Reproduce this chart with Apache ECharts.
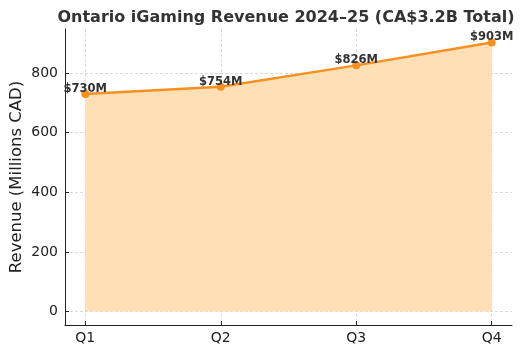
<!DOCTYPE html>
<html style="height: 100%">
<head>
  <meta charset="utf-8">
</head>
<body style="height: 100%; margin: 0">
  <div id="container" style="width: 527px; height: 354px"></div>
  <script type="text/javascript" src="https://cdn.jsdelivr.net/npm/echarts@6/dist/echarts.min.js"></script>
  <script type="text/javascript">
    var quarters = ['Q1', 'Q2', 'Q3', 'Q4'];
    var revenue = [730, 754, 826, 903];
    var yTicks = [0, 200, 400, 600, 800];

    var dom = document.getElementById("container");
    var myChart = echarts.init(dom);
    var font = 'DejaVu Sans';
    var xIdx = quarters.map(function (q, i) { return i; });

    var option = {
        animation: false,
        textStyle: { fontFamily: font },
        title: {
            text: 'Ontario iGaming Revenue 2024–25 (CA$3.2B Total)',
            left: 281,
            textAlign: 'center',
            top: 5,
            textStyle: { fontSize: 16, fontWeight: 'bold', color: '#333', fontFamily: font }
        },
        grid: { left: 65, right: 15, top: 29, bottom: 29, containLabel: false, outerBoundsMode: 'none' },
        xAxis: {
            type: 'value',
            min: -0.15,
            max: 3.15,
            axisLine: { show: true, onZero: false, lineStyle: { color: '#222', width: 1 } },
            axisTick: { show: true, inside: true, length: 4, customValues: xIdx, lineStyle: { color: '#222' } },
            axisLabel: {
                customValues: xIdx,
                color: '#222', fontSize: 14, margin: 6,
                formatter: function (v) { return quarters[Math.round(v)]; }
            },
            splitLine: { show: true, lineStyle: { color: '#d0d0d0', type: [3, 2], width: 0.8 } }
        },
        yAxis: {
            type: 'value',
            min: -45,
            max: 948,
            name: 'Revenue (Millions CAD)',
            nameLocation: 'middle',
            nameGap: 40,
            nameMoveOverlap: false,
            nameTextStyle: { fontSize: 16.5, color: '#222' },
            axisLine: { show: true, onZero: false, lineStyle: { color: '#222', width: 1 } },
            axisTick: { show: true, inside: true, length: 4, customValues: yTicks, lineStyle: { color: '#222' } },
            axisLabel: { customValues: yTicks, color: '#222', fontSize: 14, margin: 7 },
            splitLine: { show: true, lineStyle: { color: '#d0d0d0', type: [3, 2], width: 0.8 } }
        },
        series: [{
            type: 'line',
            data: revenue.map(function (v, i) { return [i, v]; }),
            symbol: 'circle',
            symbolSize: 8,
            lineStyle: { color: '#f7901e', width: 2.5 },
            itemStyle: { color: '#f7901e' },
            areaStyle: { color: '#ffdfb6', opacity: 1, origin: 0 },
            label: {
                show: true,
                position: 'top',
                distance: 0,
                offset: [0, 5],
                fontSize: 11.5,
                fontWeight: 'bold',
                color: '#333',
                formatter: function (p) { return '$' + p.value[1] + 'M'; }
            },
            z: 3
        }]
    };
    myChart.setOption(option);
  </script>
</body>
</html>
